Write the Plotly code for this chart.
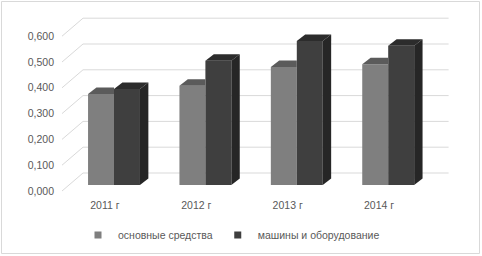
import plotly.graph_objects as go

# ---- data ----
categories = ["2011 г", "2012 г", "2013 г", "2014 г"]
series_names = ["основные средства", "машины и оборудование"]
fixed_assets = [0.353, 0.385, 0.457, 0.468]
machinery = [0.372, 0.482, 0.558, 0.540]
y_ticks = [0.0, 0.1, 0.2, 0.3, 0.4, 0.5, 0.6]

# ---- styling / projection constants ----
W, H = 482, 256
L, R, T, B = 55, 455, 15, 195          # plot area in pixels
X0PX, Y0PX = 114.0, 185.0               # pixel of (x=0, y=0) on bar plane
PXX, PXY = 91.4, 258.0                  # px per x unit, px per y unit
BAR_W = 0.284
BAR_DX, BAR_DY = 8.4 / PXX, 6.5 / PXY   # bar depth
BACK_DX, BACK_DY = 14.7 / PXX, 12.0 / PXY
FRONT_DX, FRONT_DY = -6.3 / PXX, -6.0 / PXY

C_GRAY_FRONT, C_GRAY_TOP = "#7f7f7f", "#5b5b5b"
C_DARK_FRONT, C_DARK_TOP, C_DARK_SIDE = "#3f3f3f", "#2c2c2c", "#262626"
GRID = "#d9d9d9"
TXT = "#595959"
FONT = "Liberation Sans"

xr = [(L - X0PX) / PXX, (R - X0PX) / PXX]
yr = [(Y0PX - B) / PXY, (Y0PX - T) / PXY]

fig = go.Figure()

idx = list(range(len(categories)))

# front faces
fig.add_trace(go.Bar(x=idx, y=fixed_assets, width=BAR_W, offset=-BAR_W,
                     marker=dict(color=C_GRAY_FRONT, line=dict(width=0)),
                     name=series_names[0], showlegend=False))
fig.add_trace(go.Bar(x=idx, y=machinery, width=BAR_W, offset=0,
                     marker=dict(color=C_DARK_FRONT, line=dict(width=0)),
                     name=series_names[1], showlegend=False))


def poly(xs, ys, color):
    fig.add_trace(go.Scatter(x=xs + [xs[0]], y=ys + [ys[0]], mode="lines",
                             fill="toself", fillcolor=color,
                             line=dict(width=0, color=color),
                             hoverinfo="skip", showlegend=False))


# top face of the gray bars (right part hidden by dark bar)
for i, v in zip(idx, fixed_assets):
    x0, x1 = i - BAR_W, i
    poly([x0, x1, x1, x0 + BAR_DX], [v, v, v + BAR_DY, v + BAR_DY], C_GRAY_TOP)

# top and side of the dark bars
for i, v in zip(idx, machinery):
    x0, x1 = i, i + BAR_W
    poly([x0, x1, x1 + BAR_DX, x0 + BAR_DX], [v, v, v + BAR_DY, v + BAR_DY], C_DARK_TOP)
    poly([x1, x1 + BAR_DX, x1 + BAR_DX, x1], [0, BAR_DY, v + BAR_DY, v], C_DARK_SIDE)

# legend entries
fig.add_trace(go.Scatter(x=[None], y=[None], mode="markers", name=series_names[0],
                         marker=dict(symbol="square", size=7, color=C_GRAY_FRONT)))
fig.add_trace(go.Scatter(x=[None], y=[None], mode="markers", name=series_names[1],
                         marker=dict(symbol="square", size=7, color=C_DARK_FRONT)))

shapes = []
xl, xrgt = -0.5, len(categories) - 0.5
for v in y_ticks:
    shapes.append(dict(type="line", xref="x", yref="y", layer="below",
                       x0=xl + BACK_DX, x1=xrgt + BACK_DX,
                       y0=v + BACK_DY, y1=v + BACK_DY,
                       line=dict(color=GRID, width=1)))
    shapes.append(dict(type="line", xref="x", yref="y", layer="below",
                       x0=xl + FRONT_DX, x1=xl + BACK_DX,
                       y0=v + FRONT_DY, y1=v + BACK_DY,
                       line=dict(color=GRID, width=1)))
# chart border (paper = whole figure, margins are zero)
shapes.append(dict(type="rect", xref="paper", yref="paper",
                   x0=1.5 / W, x1=479.5 / W,
                   y0=1 - 253.5 / H, y1=1 - 1.5 / H,
                   line=dict(color=GRID, width=1)))

fig.update_layout(
    width=W, height=H,
    margin=dict(l=0, r=0, t=0, b=0, pad=0, autoexpand=False),
    paper_bgcolor="white", plot_bgcolor="rgba(0,0,0,0)",
    barmode="overlay",
    shapes=shapes,
    font=dict(family=FONT, size=10, color=TXT),
    xaxis=dict(domain=[L / W, R / W], range=xr, showgrid=False, zeroline=False,
               showline=False, automargin=False, ticklabelstandoff=2,
               tickmode="array", tickvals=[i - 0.1 for i in idx], ticktext=categories,
               ticks="", tickfont=dict(size=10.5, color=TXT), fixedrange=True),
    yaxis=dict(domain=[1 - B / H, 1 - T / H], range=yr, showgrid=False, zeroline=False,
               showline=False, automargin=False,
               tickmode="array", tickvals=[v + FRONT_DY for v in y_ticks],
               ticktext=[f"{v:.3f}".replace(".", ",") for v in y_ticks],
               ticks="", tickfont=dict(size=10.5, color=TXT), fixedrange=True),
    legend=dict(orientation="h", x=78 / W, xanchor="left",
                y=1 - 235 / H, yanchor="middle",
                font=dict(size=10.5, color=TXT), itemwidth=30,
                bgcolor="rgba(0,0,0,0)", traceorder="normal"),
    showlegend=True,
)

fig.write_html("out.html", config={"displayModeBar": False},
               post_script="document.body.style.margin='0';")
